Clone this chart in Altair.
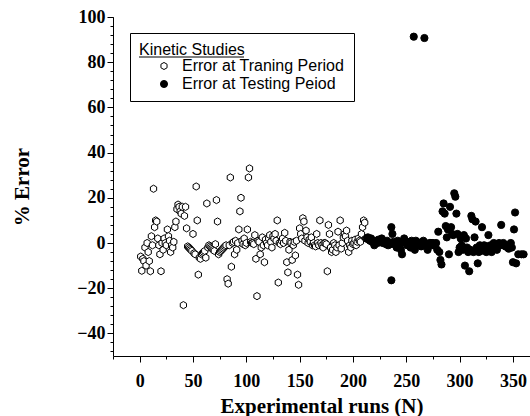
import altair as alt
import pandas as pd

TRAIN = "Error at Traning Period"
TEST = "Error at Testing Peiod"

# Training-period runs (N) and their % error
train_x = [1, 2, 3, 4, 5, 6, 7, 8, 9, 10, 11, 12, 13, 14, 15, 16, 17, 18, 19, 20,
           21, 22, 23, 24, 25, 26, 27, 28, 29, 30, 31, 32, 33, 34, 35, 36, 37, 38, 39, 40,
           41, 42, 43, 44, 45, 46, 47, 48, 49, 50, 51, 52, 53, 54, 55, 56, 57, 58, 59, 60,
           61, 62, 63, 64, 65, 66, 67, 68, 69, 70, 71, 72, 73, 74, 75, 76, 77, 78, 79, 80,
           81, 82, 83, 84, 85, 86, 87, 88, 89, 90, 91, 92, 93, 94, 95, 96, 97, 98, 99, 100,
           101, 102, 103, 104, 105, 106, 107, 108, 109, 110, 111, 112, 113, 114, 115, 116, 117, 118, 119, 120,
           121, 122, 123, 124, 125, 126, 127, 128, 129, 130, 131, 132, 133, 134, 135, 136, 137, 138, 139, 140,
           141, 142, 143, 144, 145, 146, 147, 148, 149, 150, 151, 152, 153, 154, 155, 156, 157, 158, 159, 160,
           161, 162, 163, 164, 165, 166, 167, 168, 169, 170, 171, 172, 173, 174, 175, 176, 177, 178, 179, 180,
           181, 182, 183, 184, 185, 186, 187, 188, 189, 190, 191, 192, 193, 194, 195, 196, 197, 198, 199, 200,
           201, 202, 203, 204, 205, 206, 207, 208, 209, 210, 211, 212]
train_y = [-6, -12.3, -7, -8, -2, -10, 0, -4, -8, -12.5, 3, -1, 24, 7, 10, 9.5, 2, -1, -5, -12.5,
           0, -3, 2, 0, -1, 6, 3, 1, -4, -1, -2, 0.5, 7, 9.5, 15, 17, 16, 14, 13, 16,
           -27.5, 12, 16, 6.5, -1.5, -2, -2.5, -3, -3.5, 4, -4.5, -5, 25, 10, -14, -6.5, -7, -5, -4.5, -4,
           -3.5, -6.5, 17.5, -2, -1, -1.5, -2, -2.5, -3, -3.5, -0.5, 19, 9.5, -5, -4, -3.5, -3, -2.5, -2, -1.5,
           -1, -16, -18, -1, 29, -10.5, 0, 0.5, -5, 1, -3, 0, 6, 14, 20, 1, -0.5, 2, -1, 0,
           6, 29, 33, 0.5, 0, 0, -0.5, 3.5, -7, -23.5, 1, 0.5, -5, -2, 2.5, -1, -8.5, 1.5, 0, -1,
           2, 3.5, 0.5, -2, 3, 2, 4, 1, 10, -17.5, 0, -0.5, 1, 2, 0, 4.5, 1, -8.5, -13, -3,
           0.5, 0, -7.5, -1, 0.5, -5.5, 1, -14, -18.5, 6.5, 4, 2, 11, 9.5, 1, 5.5, 2.5, 0, 1.5, 0.5,
           2.5, -1, 0, -1, -1.5, 4, 0, -1, 10, 0, -1, -2, 0, 0, -0.5, -12.5, 8, 4, -2, -4,
           -3, 0, -1, -4, -2, 5, -1, 10, -2.5, 0, 2.5, 4, 3, 5.5, 1, -4, -1, -2, 1, -0.5,
           0, 1.5, -1, 0.5, 2, 1, 0.5, 4, 7, 10, 9, 2]

# Testing-period runs (N) and their % error
test_x = [213, 214, 215, 216, 217, 218, 219, 220, 221, 222, 223, 224, 225, 226, 227, 228, 229, 230,
          231, 232, 233, 234, 235, 236, 236, 237, 238, 239, 240, 241, 242, 243, 244, 245, 246, 247,
          248, 249, 250, 251, 252, 253, 254, 255, 256, 257, 258, 259, 260, 261, 262, 263, 264, 265,
          266, 267, 268, 269, 270, 271, 272, 273, 274, 275, 276, 277, 278, 279, 280, 281, 282, 283,
          284, 285, 286, 287, 288, 289, 290, 291, 292, 293, 294, 295, 296, 297, 298, 299, 300, 301,
          302, 303, 304, 305, 306, 307, 308, 309, 310, 311, 312, 313, 314, 315, 316, 317, 318, 319,
          320, 321, 322, 323, 324, 325, 326, 327, 328, 329, 330, 331, 332, 333, 334, 335, 336, 337,
          338, 339, 340, 341, 342, 343, 344, 345, 346, 347, 348, 349, 350, 351, 352, 353, 355, 358, 360]
test_y = [2, 2.5, 1.5, 1, 2, 0.5, 1, -1, 0.5, 1, 0, 1.5, 1, 0.5, 2, 0, 0.5, 0,
          -0.5, 1, -1, 0, -0.5, 7, -16.5, 4, 0.5, 0, -1, -2, 1, 0, -2, -3, -5, 0.5,
          2, 1, 0, -1, -1, 0.5, -2, 1, 0, 91.3, -3, 1, 0.5, -1, 0, -0.5, -1.5, 0,
          1, 90.7, 0, -1, -3, -0.5, 0, 0, -1, 0, -1, -0.5, 0, -3, 5, -4, -7.5, -9.5,
          14, 17.5, 13, 7.5, 2.5, 6, -5, 16, 7, 4, 3.5, 22, 20.5, 13, 4, -4, -2, 2,
          -1, -3, 3.5, -10, 2, -2, -4, -12.5, -3, 12, 10.5, -4, 2.5, 9.5, -2, -9, -4, -1,
          -3.5, 7, -2, -1, -3, -4, -1.5, 3.5, -2, -1, -4, -2.5, 0, -2, -1, -3, -0.5, 0,
          -1, 8, -0.5, 0, -1, -1.5, -1, -2, -2.5, -1, 0, -2, -8.5, 6, 13.5, -9, -5, -5, -5]

x_major = [0, 50, 100, 150, 200, 250, 300, 350]
x_minor = list(range(-25, 351, 25))
y_major = [-40, -20, 0, 20, 40, 60, 80, 100]
y_minor = list(range(-48, 101, 4))

HEX = "M0,-1L0.866,-0.5L0.866,0.5L0,1L-0.866,0.5L-0.866,-0.5Z"

df = pd.DataFrame({
    "run": train_x + test_x,
    "err": train_y + test_y,
    "series": [TRAIN] * len(train_x) + [TEST] * len(test_x),
})

xscale = alt.Scale(domain=[-25, 366], nice=False, zero=False)
yscale = alt.Scale(domain=[-50, 100], nice=False, zero=False)
series_dom = [TRAIN, TEST]

legend = alt.Legend(
    title="Kinetic Studies", orient="none", legendX=17, legendY=16,
    strokeColor="black", padding=9,
    titleFont="Liberation Sans", titleFontSize=16, titleFontWeight="normal",
    titleColor="black", titlePadding=0,
    labelFont="Liberation Sans", labelFontSize=16, labelColor="black",
    labelLimit=300,
    symbolOffset=17, labelOffset=10, rowPadding=2,
    symbolStrokeWidth=1, symbolSize=50,
)

points = alt.Chart(df).mark_point(
    filled=True, strokeWidth=1, opacity=1, size=52
).encode(
    x=alt.X("run:Q", scale=xscale, axis=alt.Axis(
        values=x_major, title="Experimental runs (N)", grid=False,
        tickSize=6, labelPadding=10, titlePadding=5, orient="bottom")),
    y=alt.Y("err:Q", scale=yscale, axis=alt.Axis(
        values=y_major, title="% Error", grid=False,
        tickSize=6, labelPadding=2, titlePadding=44, orient="left")),
    shape=alt.Shape("series:N", scale=alt.Scale(domain=series_dom, range=[HEX, "circle"]),
                    legend=legend),
    fill=alt.Fill("series:N", scale=alt.Scale(domain=series_dom, range=["white", "black"]),
                  legend=legend),
    stroke=alt.Stroke("series:N", scale=alt.Scale(domain=series_dom, range=["black", "black"]),
                      legend=legend),
)

# Minor tick marks on both axes
minor = alt.Chart(df).mark_point(opacity=0).encode(
    x=alt.X("run:Q", scale=xscale, axis=alt.Axis(
        values=x_minor, labels=False, title=None, domain=False, grid=False,
        tickSize=3, orient="bottom")),
    y=alt.Y("err:Q", scale=yscale, axis=alt.Axis(
        values=y_minor, labels=False, title=None, domain=False, grid=False,
        tickSize=3, orient="left")),
)

# Underline beneath the legend title
underline = alt.Chart(pd.DataFrame({"k": [0]})).mark_rule(
    color="black", strokeWidth=1
).encode(x=alt.value(26), x2=alt.value(131), y=alt.value(40))

chart = alt.layer(points, minor, underline).resolve_axis(
    x="independent", y="independent"
).properties(
    width=417, height=339,
    autosize=alt.AutoSizeParams(type="none"),
    padding={"left": 113, "top": 17, "right": 0, "bottom": 60},
    background="white",
).configure_view(stroke=None).configure_axis(
    labelFont="Liberation Serif", labelFontWeight="bold", labelFontSize=18,
    labelColor="black", titleFont="Liberation Serif", titleFontWeight="bold",
    titleFontSize=21, titleColor="black", domainColor="black", tickColor="black",
    domainWidth=1, tickWidth=1,
)

chart.save("out.html", embed_options={"renderer": "svg", "actions": False})
